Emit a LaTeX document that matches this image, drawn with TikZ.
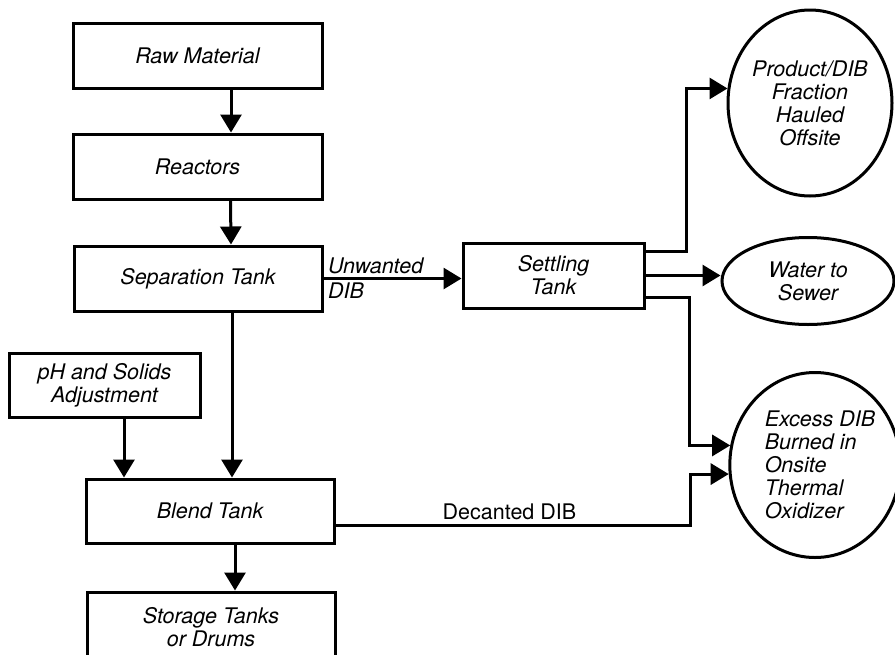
\documentclass[tikz,border=0pt]{standalone}
\usepackage{fontspec}
\setmainfont{TeX Gyre Heros}
\usetikzlibrary{arrows.meta,shapes.geometric}
\newcommand{\flowfont}{\fontsize{21.5}{23}\selectfont}

\begin{document}
\begin{tikzpicture}[x=1pt, y=-1pt, line width=3pt, >={Triangle[length=18pt, width=21pt]},
  box/.style={draw, minimum width=249pt, minimum height=65pt, inner sep=2pt, align=center, font=\flowfont\itshape},
  blob/.style={draw, ellipse, inner sep=0pt, align=center, font=\flowfont\itshape},
  lbl/.style={inner sep=3pt, font=\flowfont\itshape}]
  \useasboundingbox (0,0) rectangle (895,654);
  \clip (0,0) rectangle (895,654);
  % main column
  \node[box] (raw) at (197.5,55.5) {Raw Material};
  \node[box] (reactors) at (197.5,166.5) {Reactors};
  \node[box, minimum width=248pt] (sep) at (198,278.5) {Separation Tank};
  \node[box, minimum width=191pt, minimum height=64pt] (ph) at (104.5,385) {pH and Solids\\Adjustment};
  \node[box, minimum width=248pt, minimum height=64pt] (blend) at (210,511) {Blend Tank};
  \node[box, minimum width=248pt, minimum height=70pt] (storage) at (211,627) {Storage Tanks\\or Drums};
  % settling and outlets
  \node[box, minimum width=181pt] (settle) at (553.5,275.5) {Settling\\Tank};
  \node[blob, minimum width=164pt, minimum height=186pt] (product) at (810,103) {Product/DIB\\Fraction\\Hauled\\Offsite};
  \node[blob, minimum width=172pt, minimum height=87pt] (water) at (808,281) {Water to\\Sewer};
  \node[blob, minimum width=160pt, minimum height=185pt, align=left] (excess) at (815,465) {\hspace{10pt}Excess DIB\\\hspace{10pt}Burned in\\\hspace{10pt}Onsite\\\hspace{10pt}Thermal\\\hspace{10pt}Oxidizer};
  % vertical flow
  \draw[->] ([xshift=33.5pt]raw.south) -- ([xshift=33.5pt]reactors.north);
  \draw[->] ([xshift=33pt]reactors.south) -- ([xshift=33pt]sep.north);
  \draw[->] ([xshift=34pt]sep.south) -- ([xshift=34pt]sep.south |- blend.north);
  \draw[->] ([xshift=19.5pt]ph.south) -- ([xshift=19.5pt]ph.south |- blend.north);
  \draw[->] ([xshift=25pt]blend.south) -- ([xshift=25pt]blend.south |- storage.north);
  % DIB streams
  \draw[->] (sep.east) -- node[lbl, pos=0, anchor=south west] {Unwanted}
    node[lbl, pos=0, anchor=north west] {DIB} (sep.east -| settle.west);
  \draw[->] ([yshift=-10pt]settle.north east) -- ++(41,0) |- (product.170);
  \draw[->] (settle.east) -- (water.west |- settle.east);
  \draw[->] ([yshift=12pt]settle.south east) -- ++(44,0) |- (excess.167);
  \draw[->] ([yshift=-14pt]blend.east) -- node[above, font=\flowfont, pos=0.49] {Decanted DIB} ++(355,0) |- (excess.186);
\end{tikzpicture}
\end{document}
